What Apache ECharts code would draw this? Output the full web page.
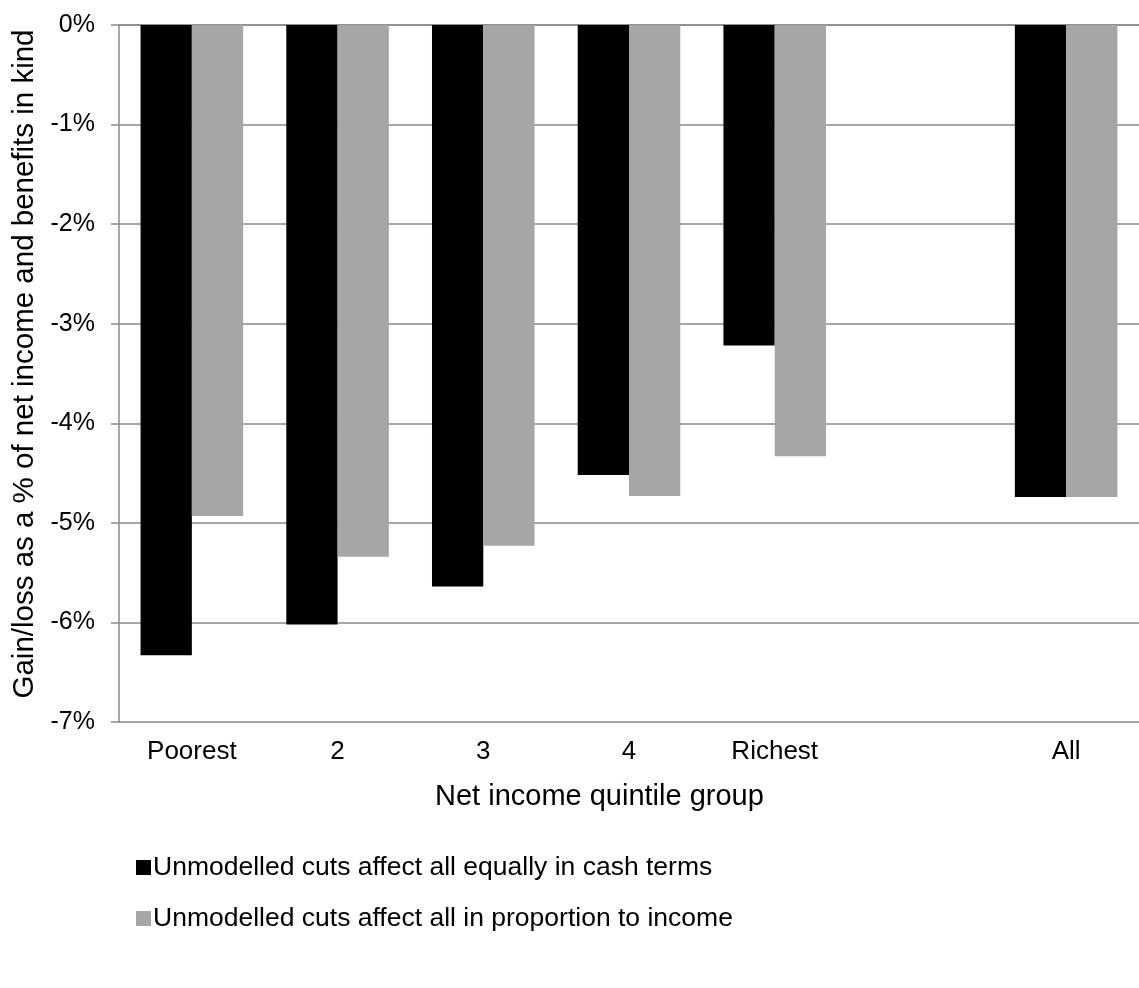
<!DOCTYPE html>
<html>
<head>
<meta charset="utf-8">
<script src="https://cdn.jsdelivr.net/npm/echarts@6/dist/echarts.min.js"></script>
<style>
  html, body { margin: 0; padding: 0; background: #fff; }
  #chart { width: 1139px; height: 988px; }
</style>
</head>
<body>
<div id="chart"></div>
<script>
// Quintile groups; the blank slot keeps a gap before the "All" column
const categories = ['Poorest', '2', '3', '4', 'Richest', '', 'All'];

// Gain/loss as % of net income and benefits in kind
const equalCashValues = [-6.33, -6.02, -5.64, -4.52, -3.22, null, -4.74];
const proportionalValues = [-4.93, -5.34, -5.23, -4.73, -4.33, null, -4.74];

const yTicks = { min: -7, max: 0, step: 1 };

const seriesNames = [
  'Unmodelled cuts affect all equally in cash terms',
  'Unmodelled cuts affect all in proportion to income'
];

const FONT = '"Liberation Sans", Arial, sans-serif';
const GRID_COLOR = '#8a8a8a';

const chart = echarts.init(document.getElementById('chart'), null, { renderer: 'canvas' });

chart.setOption({
  animation: false,
  backgroundColor: '#ffffff',
  textStyle: { fontFamily: FONT, color: '#000' },
  grid: { left: 119, top: 25, width: 1035, height: 697, containLabel: false },
  legend: {
    orient: 'vertical',
    left: 131,
    top: 849,
    itemGap: 24,
    itemWidth: 15,
    itemHeight: 15,
    icon: 'rect',
    textStyle: { fontFamily: FONT, fontSize: 26.5, color: '#000', padding: [0, 0, 0, -3] },
    data: seriesNames
  },
  xAxis: {
    type: 'category',
    data: categories,
    axisLine: { show: true, lineStyle: { color: GRID_COLOR, width: 1.5 } },
    axisTick: { show: false },
    axisLabel: { fontFamily: FONT, fontSize: 26, color: '#000', margin: 17 },
    splitLine: { show: false }
  },
  yAxis: {
    type: 'value',
    min: yTicks.min,
    max: yTicks.max,
    interval: yTicks.step,
    axisLine: { show: true, lineStyle: { color: GRID_COLOR, width: 1.5 } },
    axisTick: { show: true, inside: false, length: 8, lineStyle: { color: GRID_COLOR, width: 1.5 } },
    axisLabel: {
      fontFamily: FONT, fontSize: 25, color: '#000', margin: 24,
      formatter: v => v + '%'
    },
    splitLine: { show: true, lineStyle: { color: GRID_COLOR, width: 1.5 } }
  },
  graphic: [
    {
      // vertical axis title
      type: 'text',
      x: 25,
      y: 364,
      rotation: Math.PI / 2,
      style: {
        text: 'Gain/loss as a % of net income and benefits in kind',
        fontFamily: FONT,
        fontSize: 29.5,
        fill: '#000',
        align: 'center',
        verticalAlign: 'middle'
      }
    },
    {
      // horizontal axis title
      type: 'text',
      left: 435,
      top: 782,
      style: {
        text: 'Net income quintile group',
        fontFamily: FONT,
        fontSize: 29,
        fill: '#000'
      }
    }
  ],
  series: [
    {
      name: seriesNames[0],
      type: 'bar',
      data: equalCashValues,
      barGap: '0%',
      barCategoryGap: '29.6%',
      itemStyle: { color: '#000000' }
    },
    {
      name: seriesNames[1],
      type: 'bar',
      data: proportionalValues,
      barGap: '0%',
      barCategoryGap: '29.6%',
      itemStyle: { color: '#a6a6a6' }
    }
  ]
});
</script>
</body>
</html>
